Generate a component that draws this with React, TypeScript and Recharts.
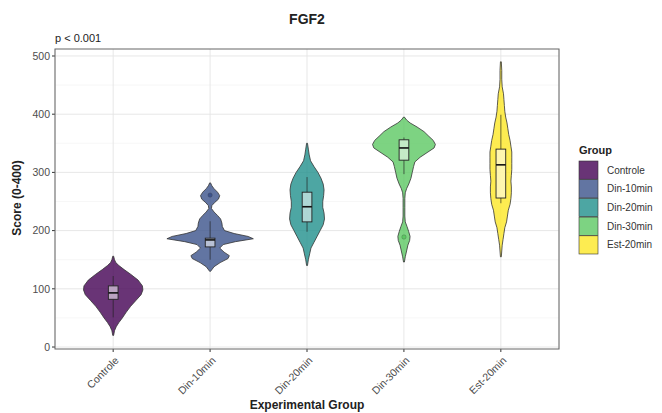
import { ComposedChart, Bar, XAxis, YAxis, CartesianGrid } from "recharts"

// group names and viridis fills
const groups = ["Controle", "Din-10min", "Din-20min", "Din-30min", "Est-20min"]
const groupColors = ["#440154", "#3B528B", "#21908C", "#5DC863", "#FDE725"]

// box plot statistics per group
const q1 = [82, 172, 215, 321, 256]
const medians = [93, 184, 241, 342, 313]
const q3 = [105, 187, 266, 356, 340]
const whiskerLow = [51, 150, 198, 297, 247]
const whiskerHigh = [122, 216, 292, 360, 399]
const outliers: number[][] = [[], [261], [], [189], []]

// kernel density profiles: [score, relative density]
const controleDensity = [
  [20, 0.01], [28, 0.03], [35, 0.07], [42, 0.13], [50, 0.21], [60, 0.3], [70, 0.4], [80, 0.52],
  [90, 0.64], [98, 0.68], [105, 0.67], [115, 0.57], [125, 0.4], [133, 0.25], [140, 0.13],
  [145, 0.06], [150, 0.03], [156, 0.01],
]
const din10Density = [
  [130, 0.01], [138, 0.09], [145, 0.23], [152, 0.41], [157, 0.44], [163, 0.32], [170, 0.22],
  [176, 0.3], [181, 0.58], [186, 0.99], [190, 0.87], [195, 0.55], [200, 0.33], [207, 0.28],
  [213, 0.27], [220, 0.24], [226, 0.17], [232, 0.09], [238, 0.03], [243, 0.04], [248, 0.1],
  [254, 0.19], [260, 0.22], [266, 0.17], [272, 0.09], [277, 0.04], [282, 0.01],
]
const din20Density = [
  [140, 0.01], [150, 0.03], [160, 0.06], [170, 0.09], [180, 0.16], [190, 0.23], [200, 0.3],
  [210, 0.37], [220, 0.4], [230, 0.39], [240, 0.36], [250, 0.36], [260, 0.38], [270, 0.39],
  [280, 0.37], [290, 0.32], [300, 0.25], [310, 0.16], [320, 0.08], [330, 0.05], [340, 0.03],
  [350, 0.01],
]
const din30Density = [
  [146, 0.01], [155, 0.03], [165, 0.06], [175, 0.09], [183, 0.13], [190, 0.14], [198, 0.11],
  [207, 0.07], [215, 0.03], [225, 0.02], [240, 0.02], [255, 0.02], [265, 0.03], [272, 0.06],
  [280, 0.11], [290, 0.16], [300, 0.19], [310, 0.22], [318, 0.25], [326, 0.37], [335, 0.55],
  [342, 0.69], [348, 0.72], [355, 0.67], [362, 0.57], [370, 0.46], [378, 0.3], [385, 0.14],
  [390, 0.06], [395, 0.01],
]
const est20Density = [
  [155, 0.01], [165, 0.02], [175, 0.03], [185, 0.05], [195, 0.07], [205, 0.09], [215, 0.13],
  [225, 0.15], [235, 0.17], [245, 0.21], [255, 0.23], [265, 0.24], [275, 0.24], [285, 0.23],
  [295, 0.24], [305, 0.25], [315, 0.25], [325, 0.25], [335, 0.25], [345, 0.23], [355, 0.21],
  [365, 0.18], [375, 0.16], [385, 0.14], [395, 0.11], [405, 0.09], [415, 0.08], [425, 0.07],
  [435, 0.06], [447, 0.03], [460, 0.02], [475, 0.02], [490, 0.01],
]
const densities = [controleDensity, din10Density, din20Density, din30Density, est20Density]

const yTicks = [0, 100, 200, 300, 400, 500]
const yMinor = [50, 150, 250, 350, 450]

const data = groups.map((group, i) => ({
  group,
  span: [densities[i][0][0], densities[i][densities[i].length - 1][0]],
  profile: densities[i],
  q1: q1[i],
  median: medians[i],
  q3: q3[i],
  low: whiskerLow[i],
  high: whiskerHigh[i],
  outliers: outliers[i],
  color: groupColors[i],
}))

const FONT = "'Liberation Sans', Arial, Helvetica, sans-serif"

function ViolinShape(props: any) {
  const { x, y, width, height, payload } = props
  const [lo, hi] = payload.span
  const top = Math.min(y, y + height)
  const bottom = Math.max(y, y + height)
  // linear map from score to pixel, pinned to the bar's own extent
  const py = (v: number) => top + ((hi - v) / (hi - lo)) * (bottom - top)
  const cx = x + width / 2
  const maxHalf = width * 0.45
  const prof: number[][] = payload.profile
  const right = prof.map(([v, d]) => `${cx + d * maxHalf},${py(v)}`)
  const left = [...prof].reverse().map(([v, d]) => `${cx - d * maxHalf},${py(v)}`)
  const path = "M" + right.join("L") + "L" + left.join("L") + "Z"
  const bh = width * 0.05
  return (
    <g>
      <path d={path} fill={payload.color} fillOpacity={0.8} stroke="#333" strokeWidth={0.8} strokeLinejoin="round" />
      <line x1={cx} x2={cx} y1={py(payload.high)} y2={py(payload.q3)} stroke="#222" strokeOpacity={0.65} strokeWidth={1} />
      <line x1={cx} x2={cx} y1={py(payload.q1)} y2={py(payload.low)} stroke="#222" strokeOpacity={0.65} strokeWidth={1} />
      <rect
        x={cx - bh}
        y={py(payload.q3)}
        width={bh * 2}
        height={py(payload.q1) - py(payload.q3)}
        fill="#fff"
        fillOpacity={0.55}
        stroke="#222"
        strokeWidth={0.9}
      />
      <line x1={cx - bh} x2={cx + bh} y1={py(payload.median)} y2={py(payload.median)} stroke="#111" strokeWidth={1.6} />
      {payload.outliers.map((o: number, k: number) => (
        <circle key={k} cx={cx} cy={py(o)} r={2.2} fill={payload.color} stroke="#333" strokeOpacity={0.5} strokeWidth={0.5} />
      ))}
    </g>
  )
}

function XTick(props: any) {
  const { x, y, payload } = props
  return (
    <text
      transform={`translate(${x + 1},${y + 2}) rotate(-45)`}
      textAnchor="end"
      dy="0.7em"
      fontSize={10.5}
      fill="#4d4d4d"
      fontFamily={FONT}
    >
      {payload.value}
    </text>
  )
}

export default function App() {
  return (
    <div style={{ position: "absolute", left: 0, top: 0, width: 662, height: 413, background: "#fff" }}>
      <ComposedChart
        width={662}
        height={413}
        data={data}
        margin={{ top: 49, right: 103, bottom: 14, left: 15 }}
        barCategoryGap={0}
      >
        <CartesianGrid horizontalValues={yMinor} vertical={false} stroke="#f1f1f1" strokeWidth={0.6} />
        <CartesianGrid horizontalValues={yTicks} stroke="#e4e4e4" strokeWidth={0.9} />
        <XAxis
          dataKey="group"
          height={50}
          padding={{ left: 9.7, right: 9.7 }}
          axisLine={false}
          tickLine={{ stroke: "#333" }}
          tickSize={3}
          tick={<XTick />}
          interval={0}
        />
        <YAxis
          type="number"
          width={40}
          domain={[-3.4, 512]}
          ticks={yTicks}
          allowDataOverflow
          axisLine={false}
          tickLine={{ stroke: "#333" }}
          tickSize={3}
          tickMargin={2}
          tick={{ fontSize: 10.5, fill: "#4d4d4d", fontFamily: FONT }}
        />
        <Bar dataKey="span" shape={<ViolinShape />} isAnimationActive={false} />
      </ComposedChart>
      <svg
        width={662}
        height={413}
        style={{ position: "absolute", left: 0, top: 0, pointerEvents: "none" }}
        fontFamily={FONT}
      >
        <rect x={55} y={49} width={504} height={300} fill="none" stroke="#666" strokeWidth={1} />
        <text x={307} y={24} textAnchor="middle" fontSize={14} fontWeight="bold" fill="#222">
          FGF2
        </text>
        <text x={55} y={42} fontSize={11} fill="#222">
          p &lt; 0.001
        </text>
        <text
          transform="translate(21,198) rotate(-90)"
          textAnchor="middle"
          fontSize={12}
          fontWeight="bold"
          fill="#222"
        >
          Score (0-400)
        </text>
        <text x={307} y={409} textAnchor="middle" fontSize={12} fontWeight="bold" fill="#222">
          Experimental Group
        </text>
        <text x={579} y={154} fontSize={11} fontWeight="bold" fill="#222">
          Group
        </text>
        {groups.map((g, i) => (
          <g key={g}>
            <rect
              x={579}
              y={161 + i * 18.7}
              width={19}
              height={18.2}
              fill={groupColors[i]}
              fillOpacity={0.8}
              stroke="#333"
              strokeWidth={0.6}
            />
            <text x={607} y={161 + i * 18.7 + 9.1} dy="0.35em" fontSize={10} fill="#333">
              {g}
            </text>
          </g>
        ))}
      </svg>
    </div>
  )
}
